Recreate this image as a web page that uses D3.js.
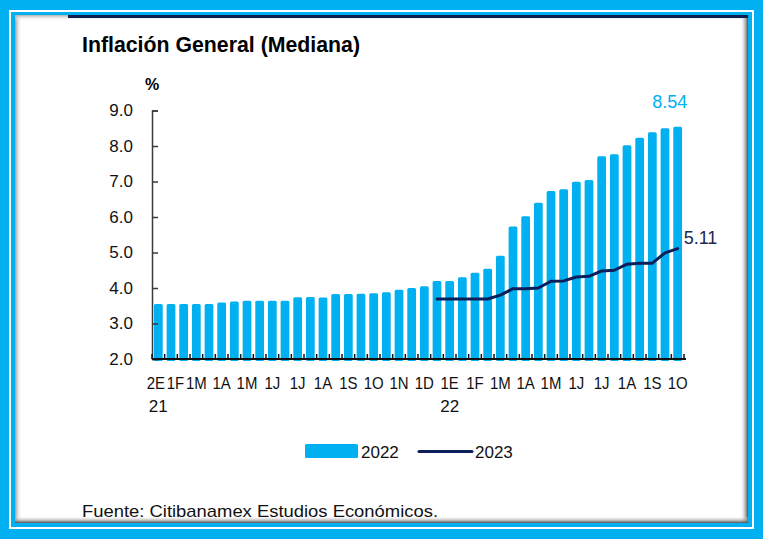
<!DOCTYPE html>
<html>
<head>
<meta charset="utf-8">
<script src="https://cdn.jsdelivr.net/npm/d3@7"></script>
<style>
  body { margin: 0; background: #fff; }
  svg { display: block; font-family: "Liberation Sans", Arial, sans-serif; }
</style>
</head>
<body>
<svg id="chart"></svg>
<script>
// half-month survey labels (only every other one is printed)
const periods = ["2E","1F","2F","1M","2M","1A","2A","1M","2M","1J","2J","1J","2J","1A","2A","1S","2S","1O","2O","1N","2N","1D","2D",
                 "1E","2E","1F","2F","1M","2M","1A","2A","1M","2M","1J","2J","1J","2J","1A","2A","1S","2S","1O"];
const shownTicks = [0,1,3,5,7,9,11,13,15,17,19,21,23,25,27,29,31,33,35,37,39,41];
const yearTicks = [{ i: 0, label: "21" }, { i: 23, label: "22" }];

// expected inflation for 2022 (bars)
const infl2022 = [3.55,3.55,3.55,3.55,3.55,3.59,3.62,3.64,3.64,3.64,3.64,3.74,3.75,3.73,3.83,3.83,3.84,3.85,3.88,3.95,4.00,4.05,
                  4.20,4.20,4.30,4.43,4.54,4.91,5.73,6.02,6.40,6.73,6.78,6.99,7.04,7.71,7.77,8.02,8.23,8.39,8.50,8.54];
// expected inflation for 2023 (line), starts at period index 22
const start2023 = 22;
const infl2023 = [3.69,3.69,3.69,3.69,3.69,3.80,3.98,3.98,4.00,4.19,4.20,4.31,4.33,4.48,4.50,4.67,4.70,4.70,4.99,5.11];

const yTicks = [2,3,4,5,6,7,8,9];

const width = 763, height = 539;
const blue = "#00b0f0", navy = "#0c1f5a", axisCol = "#3a3a3a";

const svg = d3.select("#chart").attr("width", width).attr("height", height);

// ---- frame ----
const defs = svg.append("defs");
function grad(id, x2, y2, c0, o0, c1, o1) {
  const g = defs.append("linearGradient").attr("id", id)
    .attr("x1", 0).attr("y1", 0).attr("x2", x2).attr("y2", y2);
  g.append("stop").attr("offset", 0).attr("stop-color", c0).attr("stop-opacity", o0);
  g.append("stop").attr("offset", 1).attr("stop-color", c1).attr("stop-opacity", o1);
}
grad("shL", 1, 0, "#9a9a9a", 1, "#ffffff", 0);
grad("shT", 0, 1, "#b0b0b0", 1, "#ffffff", 0);
grad("shR", 1, 0, "#ffffff", 0, "#505050", 1);
grad("shB", 0, 1, "#ffffff", 0, "#505050", 1);

svg.append("rect").attr("width", width).attr("height", height).attr("fill", blue);
svg.append("rect").attr("x", 10).attr("y", 11).attr("width", 743).attr("height", 517)
  .attr("fill", "none").attr("stroke", "#fff").attr("stroke-width", 2);
svg.append("rect").attr("x", 15).attr("y", 15).attr("width", 733).attr("height", 508).attr("fill", "#fff");
svg.append("rect").attr("x", 15).attr("y", 15).attr("width", 7).attr("height", 508).attr("fill", "url(#shL)");
svg.append("rect").attr("x", 15).attr("y", 15).attr("width", 733).attr("height", 6).attr("fill", "url(#shT)");
svg.append("rect").attr("x", 740).attr("y", 15).attr("width", 8).attr("height", 508).attr("fill", "url(#shR)");
svg.append("rect").attr("x", 15).attr("y", 516).attr("width", 733).attr("height", 7).attr("fill", "url(#shB)");
svg.append("rect").attr("x", 68).attr("y", 15).attr("width", 680).attr("height", 3).attr("fill", "#0d2150");

// ---- title ----
svg.append("text")
  .attr("x", 82).attr("y", 52)
  .attr("textLength", 278).attr("lengthAdjust", "spacingAndGlyphs")
  .style("font-size", "22px").style("font-weight", "bold")
  .text("Inflación General (Mediana)");

svg.append("text")
  .attr("x", 145).attr("y", 90)
  .style("font-size", "16px").style("font-weight", "bold")
  .text("%");

// ---- scales ----
const x = d3.scaleBand()
  .domain(d3.range(periods.length))
  .range([152, 684])
  .paddingInner(0.31)
  .paddingOuter(0.155);

const y = d3.scaleLinear().domain([2, 9]).range([359, 110.5]);

// ---- bars ----
svg.append("g").selectAll("rect")
  .data(infl2022)
  .join("rect")
  .attr("x", (d, i) => x(i))
  .attr("y", d => y(d))
  .attr("width", x.bandwidth())
  .attr("height", d => y(2) - y(d) + 2)
  .attr("rx", 1.5)
  .attr("fill", blue);

// ---- line ----
const line = d3.line()
  .x((d, i) => x(start2023 + i) + x.bandwidth() / 2)
  .y(d => y(d));

svg.append("path")
  .datum(infl2023)
  .attr("d", line)
  .attr("fill", "none")
  .attr("stroke", navy)
  .attr("stroke-width", 3)
  .attr("stroke-linejoin", "round")
  .attr("stroke-linecap", "round");

// ---- y axis ----
const yAxis = d3.axisLeft(y)
  .tickValues(yTicks)
  .tickFormat(d3.format(".1f"))
  .tickSizeInner(-6)
  .tickSizeOuter(-6)
  .tickPadding(19);

const gy = svg.append("g").attr("transform", "translate(152,0)").call(yAxis);
gy.select(".domain").attr("stroke", axisCol).attr("stroke-width", 1.5);
gy.selectAll(".tick line").attr("stroke", axisCol).attr("stroke-width", 1.5);
gy.selectAll(".tick text")
  .attr("fill", "#111")
  .style("font-size", "17px")
  .style("font-family", "'Liberation Sans', Arial, sans-serif");

// ---- x axis ----
const xAxis = d3.axisBottom(x)
  .tickValues(shownTicks)
  .tickFormat(i => periods[i])
  .tickSize(0)
  .tickSizeOuter(0)
  .tickPadding(18);

const gx = svg.append("g").attr("transform", `translate(0,${y(2)})`).call(xAxis);
gx.select(".domain").remove();
gx.selectAll(".tick text")
  .attr("fill", "#111")
  .style("font-size", "17px")
  .style("font-family", "'Liberation Sans', Arial, sans-serif")
  .attr("dx", i => (i === 0 ? -2.5 : i === 1 ? 4.5 : 0))
  .each(function () {
    // labels in the original are set a little narrower
    const w = this.getComputedTextLength();
    d3.select(this).attr("textLength", w * 0.88).attr("lengthAdjust", "spacingAndGlyphs");
  });

// tick marks between bars, pointing up
const gap = x.step() - x.bandwidth();
svg.append("g").selectAll("line")
  .data(d3.range(periods.length + 1))
  .join("line")
  .attr("x1", i => (i < periods.length ? x(i) : x(i - 1) + x.step()) - gap / 2)
  .attr("x2", i => (i < periods.length ? x(i) : x(i - 1) + x.step()) - gap / 2)
  .attr("y1", y(2))
  .attr("y2", y(2) - 5)
  .attr("stroke", "#111")
  .attr("stroke-width", 1.5);

svg.append("line")
  .attr("x1", x.range()[0]).attr("x2", x.range()[1] + 2)
  .attr("y1", y(2)).attr("y2", y(2))
  .attr("stroke", "#111").attr("stroke-width", 2);

// year row
svg.append("g").selectAll("text")
  .data(yearTicks)
  .join("text")
  .attr("x", d => x(d.i) + x.bandwidth() / 2)
  .attr("y", y(2) + 53)
  .attr("text-anchor", "middle")
  .style("font-size", "17px")
  .attr("fill", "#111")
  .text(d => d.label);

// ---- end labels ----
const last = infl2022.length - 1;
svg.append("text")
  .attr("x", x(last) + x.bandwidth() / 2 - 8)
  .attr("y", y(infl2022[last]) - 19)
  .attr("text-anchor", "middle")
  .attr("fill", blue)
  .style("font-size", "18px")
  .text(infl2022[last].toFixed(2));

const lastL = infl2023.length - 1;
svg.append("text")
  .attr("x", x(start2023 + lastL) + x.bandwidth() / 2 + 6)
  .attr("y", y(infl2023[lastL]) - 5)
  .attr("fill", "#1c2752")
  .style("font-size", "18px")
  .text(infl2023[lastL].toFixed(2));

// ---- legend ----
const legend = svg.append("g").attr("transform", "translate(305,444)");
legend.append("rect").attr("width", 53).attr("height", 14).attr("rx", 1.5).attr("fill", blue);
legend.append("text").attr("x", 56).attr("y", 14).style("font-size", "17px").attr("fill", "#111").text("2022");
legend.append("line").attr("x1", 114).attr("x2", 167).attr("y1", 7.5).attr("y2", 7.5)
  .attr("stroke", navy).attr("stroke-width", 3).attr("stroke-linecap", "round");
legend.append("text").attr("x", 170).attr("y", 14).style("font-size", "17px").attr("fill", "#111").text("2023");

// ---- source ----
svg.append("text")
  .attr("x", 82).attr("y", 517)
  .attr("textLength", 356).attr("lengthAdjust", "spacingAndGlyphs")
  .style("font-size", "17px")
  .attr("fill", "#111")
  .text("Fuente: Citibanamex Estudios Económicos.");
</script>
</body>
</html>
